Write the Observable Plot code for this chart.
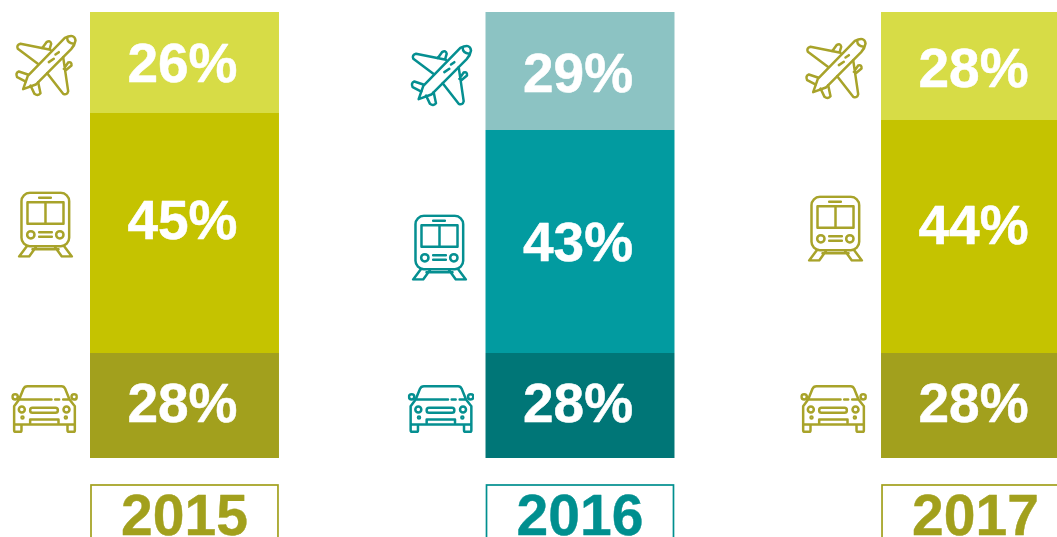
<!DOCTYPE html>
<html>
<head>
<meta charset="utf-8">
<script src="https://cdn.jsdelivr.net/npm/d3@7"></script>
<script src="https://cdn.jsdelivr.net/npm/@observablehq/plot@0.6"></script>
<style>
html,body{margin:0;padding:0;background:#fff;overflow:hidden}
svg{display:block}
</style>
</head>
<body>
<div id="chart"></div>
<script>
const years = ["2015", "2016", "2017"];
const modes = ["car", "train", "plane"];
// Printed percentages, by year, in the order of modes
const percent2015 = [28, 45, 26];
const percent2016 = [28, 43, 29];
const percent2017 = [28, 44, 28];
// Segment heights as pictured (the source's bars are not proportional to their labels)
const drawn2015 = [105, 240, 101];
const drawn2016 = [105, 223, 118];
const drawn2017 = [105, 233, 108];
// Height of each printed label and icon above the bar foot
const labelAt2015 = [54, 237, 394];
const labelAt2016 = [54, 215, 384];
const labelAt2017 = [54, 232, 389];
const iconAt2015 = [50, 234, 393];
const iconAt2016 = [50, 211, 383];
const iconAt2017 = [50, 230, 390];
// Sideways offset of each icon from its bar's centre
const iconShift2015 = [-140.5, -139.5, -139.5];
const iconShift2016 = [-139.5, -141, -139.5];
const iconShift2017 = [-142.5, -140.5, -140.5];
const olive = ["#a2a01d", "#c5c300", "#d7dc46"];
const teal = ["#007677", "#029ba0", "#8cc3c3"];
const yearInk = ["#a2a01d", "#008f8f", "#a2a01d"];
const iconInk = ["#a8a32a", "#058f91", "#a8a32a"];

const percents = [percent2015, percent2016, percent2017];
const drawn = [drawn2015, drawn2016, drawn2017];
const labelAt = [labelAt2015, labelAt2016, labelAt2017];
const iconAt = [iconAt2015, iconAt2016, iconAt2017];
const iconShift = [iconShift2015, iconShift2016, iconShift2017];
const palettes = [olive, teal, olive];

const rows = years.flatMap((year, i) => modes.map((mode, j) => ({
  year, mode,
  percent: percents[i][j],
  drawn: drawn[i][j],
  labelAt: labelAt[i][j],
  iconAt: iconAt[i][j],
  iconShift: iconShift[i][j],
  fill: palettes[i][j],
  ink: iconInk[i]
})));
const yearRows = years.map((year, i) => ({year, ink: yearInk[i]}));

const glyphs = {
  plane: {
    box: "35 95 200 200",
    body: `<path d="M193 112Q222 98 225 120Q223 134 212 146L106 252L68 266L82 226Z"/>
    <path d="M150 148L60 130Q47 133 52 145L112 190M140 218L188 280Q200 285 203 272L188 170M125 143L138 125Q150 118 152 130L147 147M190 205L203 186Q214 182 213 195L195 210M82 222L55 213Q44 217 50 230L76 243M90 255L102 280Q112 288 120 278L113 245M145 185L160 175M165 162L175 155M200 112Q200 128 220 130"/>`
  },
  train: {
    box: "34 572 200 200",
    body: `<rect x="62" y="577" width="143" height="160" rx="25"/><rect x="80" y="605" width="108" height="65"/>
    <path d="M134 605V670M115 592H150M115 695H153M115 709H153M78 737L55 768H85L105 740M190 737L213 768H183L163 740M95 746H173"/>
    <circle cx="90" cy="703" r="11"/><circle cx="177" cy="703" r="11"/>`
  },
  car: {
    box: "31 107 200 200",
    body: `<path d="M40 200L55 180L68 148Q71 140 80 140H182Q190 140 193 148L206 180L222 200V255H40ZM55 180H152M163 180H175M187 180H206M88 250V240H173V250M40 255V272Q40 277 45 277H58Q62 277 62 272V255M200 255V272Q200 277 205 277H218Q222 277 222 272V255"/>
    <circle cx="43" cy="172" r="8"/><circle cx="220" cy="172" r="8"/><circle cx="63" cy="210" r="9"/><circle cx="197" cy="210" r="9"/>
    <rect x="88" y="205" width="83" height="15" rx="7"/><circle cx="65" cy="234" r="3"/><circle cx="195" cy="234" r="3"/>`
  }
};
const iconSrc = d => {
  const g = glyphs[d.mode];
  return "data:image/svg+xml," + encodeURIComponent(
    `<svg xmlns="http://www.w3.org/2000/svg" viewBox="${g.box}"><g fill="none" stroke="${d.ink}" stroke-width="7.5" stroke-linejoin="round" stroke-linecap="round">${g.body}</g></svg>`
  );
};

const fontFamily = "'Liberation Sans', Arial, sans-serif";

const chart = Plot.plot({
  width: 1057,
  height: 537,
  marginTop: 0, marginRight: 0, marginBottom: 0, marginLeft: 0,
  style: {background: "#fff", overflow: "hidden"},
  x: {type: "band", domain: years, range: [90, 1070], paddingInner: 0.5222, paddingOuter: 0, align: 0, round: false, axis: null},
  y: {domain: [0, 446], range: [458, 12], axis: null},
  color: {type: "identity"},
  marks: [
    Plot.barY(rows, {x: "year", y: "drawn", z: "mode", order: modes, fill: "fill", inset: 0}),
    Plot.text(rows, {
      x: "year", y: "labelAt", text: d => `${d.percent}%`, fill: "#fff", stroke: "#fff", strokeWidth: 0.5,
      fontFamily, fontWeight: 700, fontSize: 55, lineAnchor: "middle", dx: -2.5
    }),
    ...rows.map(d => Plot.image([d], {
      x: "year", y: "iconAt", src: iconSrc, width: 66.7, height: 66.7, dx: d.iconShift
    })),
    Plot.barY(yearRows, {
      x: "year", y1: () => -27, y2: () => -90, fill: "none", stroke: "ink", strokeWidth: 1.7, insetLeft: 1, insetRight: 1
    }),
    Plot.text(yearRows, {
      x: "year", y: () => -76.5, text: "year", fill: "ink", stroke: "ink", strokeWidth: 0.4,
      fontFamily, fontWeight: 700, fontSize: 57, lineAnchor: "bottom", dx: -0.5
    })
  ]
});
document.getElementById("chart").append(chart);
</script>
</body>
</html>
